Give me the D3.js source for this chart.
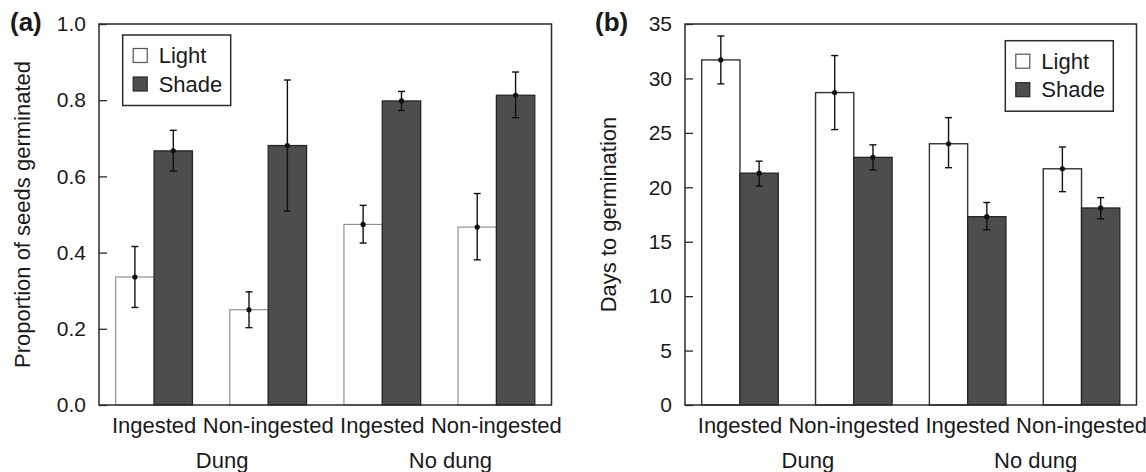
<!DOCTYPE html>
<html>
<head>
<meta charset="utf-8">
<script src="https://cdn.jsdelivr.net/npm/d3@7"></script>
<style>
  html, body { margin: 0; padding: 0; background: #fff; }
  svg { display: block; }
  text { font-family: "Liberation Sans", Arial, Helvetica, sans-serif; fill: #1a1a1a; }
</style>
</head>
<body>
<svg id="chart" width="1146" height="472"></svg>
<script>
// ---------------- data ----------------
const categories = ["Ingested", "Non-ingested", "Ingested", "Non-ingested"];
const dungGroups = ["Dung", "No dung"];
const treatments = ["Light", "Shade"];

// (a) proportion of seeds germinated
const propLight   = [0.336, 0.250, 0.474, 0.467];
const propLightLo = [0.256, 0.203, 0.425, 0.381];
const propLightHi = [0.416, 0.297, 0.524, 0.555];
const propShade   = [0.667, 0.681, 0.798, 0.813];
const propShadeLo = [0.614, 0.509, 0.773, 0.754];
const propShadeHi = [0.721, 0.853, 0.823, 0.874];
const propTicks   = [0, 0.2, 0.4, 0.6, 0.8, 1.0];

// (b) days to germination
const daysLight   = [31.7, 28.7, 24.0, 21.7];
const daysLightLo = [29.5, 25.3, 21.8, 19.6];
const daysLightHi = [33.9, 32.1, 26.4, 23.7];
const daysShade   = [21.3, 22.75, 17.3, 18.1];
const daysShadeLo = [20.1, 21.6, 16.1, 17.1];
const daysShadeHi = [22.4, 23.9, 18.6, 19.05];
const daysTicks   = [0, 5, 10, 15, 20, 25, 30, 35];

// ---------------- drawing ----------------
const svg = d3.select("#chart");
const plotTop = 24, plotBottom = 405;
const shadeFill = "#4d4d4d";

function drawPanel(cfg) {
  const g = svg.append("g");
  const x = d3.scaleBand().domain(d3.range(categories.length))
    .range([cfg.left, cfg.right]).paddingInner(0.3275).paddingOuter(0.1466);
  const xs = d3.scaleBand().domain(treatments).range([0, x.bandwidth()]).padding(0);
  const y = d3.scaleLinear().domain(cfg.domain).range([plotBottom, plotTop]);

  const rows = [];
  categories.forEach((c, i) => {
    rows.push({i, t: "Light", v: cfg.light[i], lo: cfg.lightLo[i], hi: cfg.lightHi[i]});
    rows.push({i, t: "Shade", v: cfg.shade[i], lo: cfg.shadeLo[i], hi: cfg.shadeHi[i]});
  });

  // bars
  g.selectAll("rect.bar").data(rows).join("rect")
    .attr("class", "bar")
    .attr("x", d => x(d.i) + xs(d.t))
    .attr("width", xs.bandwidth())
    .attr("y", d => y(d.v))
    .attr("height", d => y(0) - y(d.v))
    .attr("fill", d => d.t === "Light" ? "#fff" : shadeFill)
    .attr("stroke", d => d.t === "Light" ? cfg.lightStroke : "#262626")
    .attr("stroke-width", d => d.t === "Light" ? cfg.lightStrokeW : 1.3);

  // error bars
  const cx = d => x(d.i) + xs(d.t) + xs.bandwidth() / 2;
  const eb = g.selectAll("g.err").data(rows).join("g").attr("class", "err")
    .attr("stroke", "#111").attr("stroke-width", 1.4);
  eb.append("line").attr("x1", cx).attr("x2", cx).attr("y1", d => y(d.lo)).attr("y2", d => y(d.hi));
  eb.append("line").attr("x1", d => cx(d) - 3.5).attr("x2", d => cx(d) + 3.5).attr("y1", d => y(d.hi)).attr("y2", d => y(d.hi));
  eb.append("line").attr("x1", d => cx(d) - 3.5).attr("x2", d => cx(d) + 3.5).attr("y1", d => y(d.lo)).attr("y2", d => y(d.lo));
  g.selectAll("circle.mean").data(rows).join("circle")
    .attr("class", "mean").attr("cx", cx).attr("cy", d => y(d.v)).attr("r", 2.6).attr("fill", "#111");

  // frame
  g.append("rect").attr("x", cfg.left).attr("y", plotTop)
    .attr("width", cfg.right - cfg.left).attr("height", plotBottom - plotTop)
    .attr("fill", "none").attr("stroke", "#2b2b2b").attr("stroke-width", 1.5);

  // y axis
  const ax = g.append("g").attr("transform", `translate(${cfg.left},0)`)
    .call(d3.axisLeft(y).tickValues(cfg.ticks).tickFormat(cfg.fmt).tickSize(-8).tickPadding(13));
  ax.select(".domain").remove();
  ax.selectAll(".tick line").attr("stroke", "#2b2b2b").attr("stroke-width", 1.3);
  ax.selectAll(".tick text").attr("font-size", 21).attr("fill", "#1a1a1a")
    .attr("font-family", "Liberation Sans, Arial, sans-serif");

  // x labels
  g.selectAll("text.cat").data(categories).join("text")
    .attr("class", "cat").attr("x", (d, i) => x(i) + x.bandwidth() / 2).attr("y", 433)
    .attr("text-anchor", "middle").attr("font-size", 22).text(d => d);
  g.selectAll("text.grp").data(dungGroups).join("text")
    .attr("class", "grp")
    .attr("x", (d, k) => (x(2 * k) + x(2 * k + 1) + x.bandwidth()) / 2 + 11)
    .attr("y", 468).attr("text-anchor", "middle").attr("font-size", 22).text(d => d);

  // y title
  g.append("text")
    .attr("transform", `translate(${cfg.left - 69},${(plotTop + plotBottom) / 2}) rotate(-90)`)
    .attr("text-anchor", "middle").attr("font-size", 22).text(cfg.title);

  // panel letter
  g.append("text").attr("x", cfg.letterX).attr("y", 31)
    .attr("font-size", 26).attr("font-weight", "bold").text(cfg.letter);

  // legend
  const lg = g.append("g").attr("transform", `translate(${cfg.legX},${cfg.legY})`);
  lg.append("rect").attr("width", 108).attr("height", 70.5)
    .attr("fill", "#fff").attr("stroke", "#2b2b2b").attr("stroke-width", 1.5);
  const items = lg.selectAll("g.item").data(treatments).join("g").attr("class", "item")
    .attr("transform", (d, k) => `translate(0,${k === 0 ? 28 : 56.5})`);
  items.append("rect").attr("x", 10.5).attr("y", -14.5).attr("width", 14).attr("height", 14)
    .attr("fill", d => d === "Light" ? "#fff" : shadeFill)
    .attr("stroke", d => d === "Light" ? "#555" : "#262626").attr("stroke-width", 1.2);
  items.append("text").attr("x", 36).attr("y", 0).attr("font-size", 22).text(d => d);
}

drawPanel({
  left: 99, right: 551.5, domain: [0, 1], ticks: propTicks, fmt: d3.format(".1f"),
  light: propLight, lightLo: propLightLo, lightHi: propLightHi,
  shade: propShade, shadeLo: propShadeLo, shadeHi: propShadeHi,
  lightStroke: "#8a8a8a", lightStrokeW: 1.1,
  title: "Proportion of seeds germinated", letter: "(a)", letterX: 10,
  legX: 122.7, legY: 35
});

drawPanel({
  left: 685, right: 1136.5, domain: [0, 35], ticks: daysTicks, fmt: d3.format("d"),
  light: daysLight, lightLo: daysLightLo, lightHi: daysLightHi,
  shade: daysShade, shadeLo: daysShadeLo, shadeHi: daysShadeHi,
  lightStroke: "#333", lightStrokeW: 1.4,
  title: "Days to germination", letter: "(b)", letterX: 595,
  legX: 1005.3, legY: 40.7
});
</script>
</body>
</html>
